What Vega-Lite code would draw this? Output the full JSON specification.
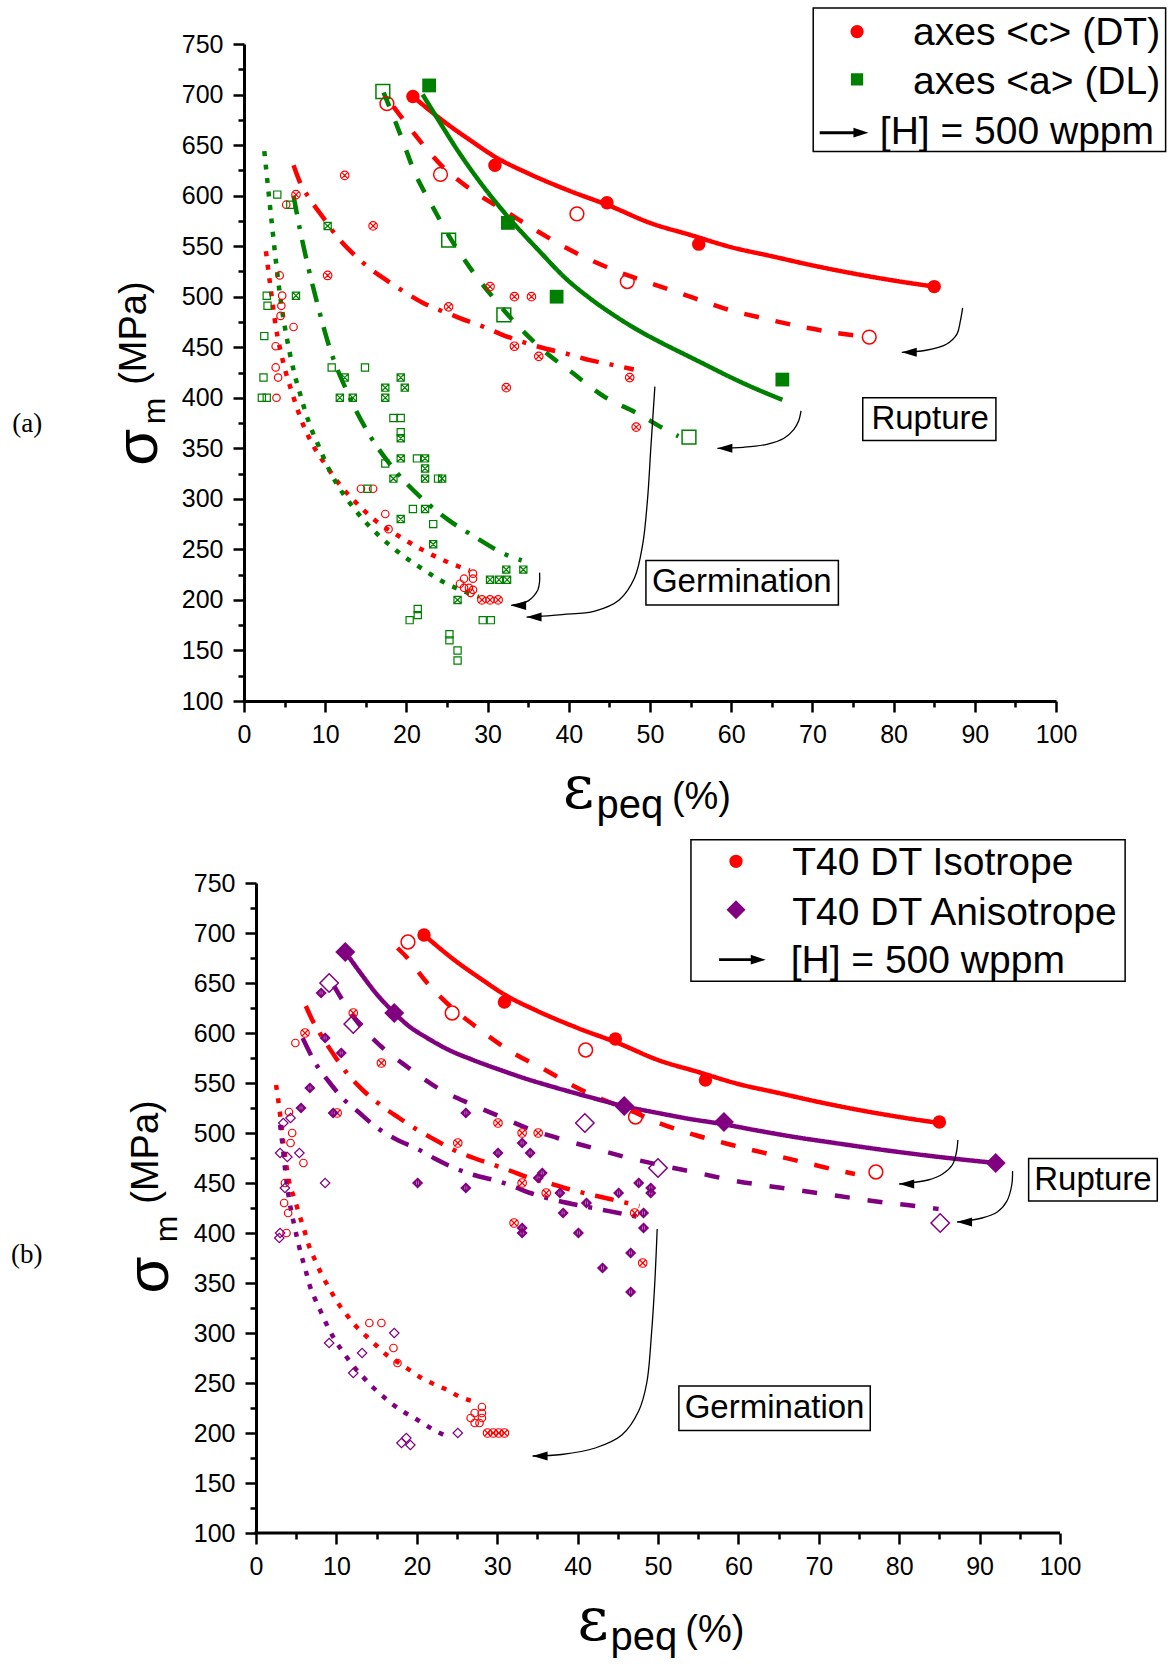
{
"$schema":"https://vega.github.io/schema/vega-lite/v6.json",
"background":"white",
"padding":{"left":11,"top":7,"right":0,"bottom":0},
"spacing":12,
"columns":1,
"align":"none",
"config":{"view":{"stroke":null},"axis":{"domainColor":"black","domainWidth":3,"tickColor":"black","tickWidth":2.5,"labelFont":"Liberation Sans","labelFontSize":25,"labelColor":"black","grid":false,"title":null,"labelOverlap":false,"labelFlush":false,"labelPadding":10}},
"resolve":{"scale":{"x":"independent","y":"independent","color":"independent","strokeDash":"independent"}},
"datasets":{
"pa":[
{"s":"c_rup","x":[20.8,30.9,44.7,56,85],"y":[698,630,593,552,510]},
{"s":"c_rupH","x":[17.6,24.2,41,47.2,77],"y":[691,621,582,515,460]},
{"s":"a_rup","x":[22.8,32.5,38.5,66.3],"y":[709,573,500,418]},
{"s":"a_rupH","x":[17.1,25.2,32,54.8],"y":[703,556,482,361]},
{"s":"c_germ","x":[12.4,6.4,15.9,10.3,25.2,30.3,33.3,35.4,33.3,36.3,32.3,47.5,48.3,29.3,30.3,31.3],"y":[620,601,570,521,490,510,500,500,451,441,410,420,371,200,200,200]},
{"s":"c_germH","x":[5.2,4.4,4.7,4.6,4.5,6.1,3.9,3.9,4.2,4.0,14.4,15.9,17.4,17.8,28.2,28.2,27.1,26.6,27.1,27.7,28.2,27.9],"y":[591,521,501,491,481,470,451,430,420,400,310,310,285,270,226,221,221,216,212,212,210,207]},
{"s":"a_germ","x":[10.3,6.4,12.4,19.3,11.8,13.4,17.4,17.4,19.8,19.3,19.3,22.3,22.3,18.4,22.3,24.4,22.3,19.3,23.3,32.3,34.4,30.3,31.4,32.4,26.3],"y":[570,501,420,420,400,400,410,400,410,360,340,340,330,320,320,320,290,280,255,230,230,220,220,220,200]},
{"s":"a_germH","x":[4.1,5.7,2.8,2.9,2.5,2.4,2.2,2.8,10.8,14.9,18.4,19.3,19.3,17.4,21.3,23.9,15.2,20.8,23.3,20.4,21.4,21.4,29.4,30.4,25.3,25.3,26.3,26.3],"y":[601,591,501,491,461,420,400,400,430,430,380,380,366,335,340,320,310,290,275,180,185,191,180,180,166,160,150,140]}
],
"pb":[
{"s":"i_rup","x":[20.9,30.9,44.7,55.9,85],"y":[698,631,594,553,511]},
{"s":"i_rupH","x":[18.9,24.4,41,47.2,77.1],"y":[691,620,583,516,461]},
{"s":"n_rup","x":[11.1,17.2,45.8,58.2,92],"y":[681,620,527,511,470]},
{"s":"n_rupH","x":[9.1,12.1,40.9,50,85.1],"y":[650,609,510,465,410]},
{"s":"i_germ","x":[6.1,12.1,15.6,10.1,25.1,30.1,33.1,35.1,33.1,36.1,47.1,32.1,48.1,28.8,29.5,30.2,30.9],"y":[600,620,570,520,490,510,500,500,450,440,420,410,370,200,200,200,200]},
{"s":"i_germH","x":[4.9,4.1,4.5,4.3,5.9,3.6,3.5,4.0,3.8,14.1,15.6,17.1,17.6,28.1,28.1,27.2,26.7,28.1,27.8,27.2],"y":[590,521,500,490,470,450,430,420,400,310,310,285,270,226,220,220,215,215,210,210]},
{"s":"n_germ","x":[8.1,8.6,10.6,6.7,5.6,9.6,26.1,26.1,20.1,30.1,33.1,34.1,35.6,35.1,37.8,38.2,41.1,40.1,33.1,33.1,45.1,47.6,49.1,49.1,48.2,48.2,46.6,43.1,46.6],"y":[640,595,580,545,525,520,520,445,450,480,490,480,460,455,440,420,430,400,405,400,440,450,445,440,420,405,380,365,341]},
{"s":"n_germH","x":[3.4,4.3,3.0,3.9,5.4,3.6,8.6,3.0,2.9,9.1,13.2,12.1,17.2,18.1,18.7,19.2,25.1],"y":[510,515,480,476,480,445,450,400,395,290,280,260,300,190,195,188,200]}
],
"la":[
{"c":"cS","x":[20.8,25,28,31,35,40,45,50,55,60,65,70,75,80,85],"y":[698,671,654,638,622,605,590,573,561,549,540,531,523,516,510]},
{"c":"cD","x":[18.4,20.3,22.3,24.3,26.3,28.3,32.3,36.3,39.3,43.3,47.3,51.3,55.3,59.3,64.3,68.8,72.3,76.8],"y":[688,668,648,630,616,604,584,564,550,534,521,510,499,488,478,470,465,460]},
{"c":"aS","x":[22,24,26.2,29.1,32.4,36.5,39.5,42.5,45.5,48.5,51.5,54,57,60,63,66.3],"y":[700,674,646,613,580,544,519,499,482,467,454,444,432,420,409,398]},
{"c":"aD","x":[17.2,18.5,19.7,20.85,23.1,25.4,27.8,30.7,34,37,40.4,44.2,48.6,51.8,53.5],"y":[702,676,651,626,591,558,529,499,469,446,425,402,384,369,362]},
{"c":"cDD","x":[6.1,6.9,7.9,9.6,11.4,13.5,15.5,17.8,20.1,22.5,25,27.5,29.9,31.6,34,36.5,40,42.7,45.1,48],"y":[630,613,599,580,560,542,528,515,503,492,484,476,469,463,456,450,443,437,433,428]},
{"c":"aDD","x":[6.1,6.9,7.6,9,10.6,12.7,15.1,18.2,21.7,25.2,28.3,32.2,34.2],"y":[600,566,540,494,448,406,368,332,302,279,263,245,239]},
{"c":"cDt","x":[2.7,3.3,3.9,4.8,6,7.3,8.5,10.2,11.8,13.7,16.1,19.1,22.1,25.5,27.8],"y":[545,507,471,436,403,373,353,332,314,297,279,263,249,236,229]},
{"c":"aDt","x":[2.5,3.5,4,4.6,5.3,6.3,6.9,7.6,8.3,9.1,10.6,13.8,16.3,18.9,21.9,24.5,27.9,28.9],"y":[644,567,530,492,458,421,404,385,369,354,327,288,266,248,231,218,206,203]}
],
"lb":[
{"c":"iS","x":[20.9,25,28,31,35,40,45,50,55,60,65,70,75,80,85],"y":[698,671,654,638,622,605,590,573,561,549,540,531,523,516,510]},
{"c":"iD","x":[17.6,18.6,21.3,24,27.9,31.8,36,39.5,43,47,50.1,54.6,59.2,64.3,68.5,72.7,74.5],"y":[685,677,650,628,603,581,563,547,534,521,510,498,488,478,470,462,459]},
{"c":"nS","x":[11.2,13,15,17.1,19,21.3,24,27,30.4,33.3,37,41,45.7,50,54,58,62,67,72,79,85,92],"y":[680,660,639,621,607,595,583,573,563,555,546,537,527,520,514,509,503,496,490,482,476,470]},
{"c":"nD","x":[9.7,12.4,15.5,19,22.6,26.7,30.2,33.7,37.5,41.9,46.4,50.8,55,59.7,63.7,68.1,72.5,76.7,81,84.9],"y":[647,613,587,565,545,529,517,505,495,485,475,467,460,452,447,442,437,432,428,424]},
{"c":"iDD","x":[6.2,7,8,9.7,11.3,13.4,15.5,17.8,20.1,22.3,24.6,27.1,29.6,31.7,34.1,36.4,38.4,42.4,45.1,47.7],"y":[627,613,599,578,560,542,528,515,503,493,483,475,468,462,455,450,445,437,432,427]},
{"c":"nDD","x":[5.8,6.4,7.3,9,11,12.6,15.1,17.6,20.1,22.1,24.4,27.1,29.6,31.9,34.1,36.7,41.9,45.1,48.2],"y":[595,585,571,552,533,522,505,493,484,475,466,458,453,447,440,434,425,420,415]},
{"c":"iDt","x":[2.5,2.9,3.4,4.1,4.8,5.4,6,6.6,7.4,8.2,9.1,10.1,11.2,12.3,13.7,14.9,16.1,17.6,19.1,20.6,22.1,23.8,25.4,27.4],"y":[548,525,490,452,434,418,403,387,372,358,345,331,319,308,297,288,279,271,263,255,249,243,236,231]},
{"c":"nDt","x":[3,3.3,3.7,4.2,4.7,5.2,5.6,6.2,6.7,7.4,8.2,9,9.9,11,12,13.2,14.5,15.9,17.1,18.4,19.9,21.5,22.6,24],"y":[508,488,458,430,410,392,379,362,347,333,319,305,292,279,268,257,246,236,228,221,214,206,201,196]}
],
"ara":[
{"a":"A1","x":[88.5,88.2,87.8,86.5,84,81],"y":[489,475,463,453,447,445]},
{"a":"A2","x":[68.6,68.3,67.7,66.5,64.4,61.5,58.3],"y":[387,377,368.5,360,354,351,350]},
{"a":"A3","x":[50.6,50.1,49.7,49.1,48.1,46.2,43.2,39.2,34.8],"y":[411,350,300,255,222,200,189,185.5,183]},
{"a":"A4","x":[36.4,36.4,36.2,35.7,35,34.1,32.9],"y":[227,218,210,204,199,196.5,194.6]},
{"a":"L","x":[70.9,75.8],"y":[662.2,662.2]}
],
"arb":[
{"a":"B1","x":[87.3,87.1,86.6,85.4,83.6,80],"y":[493,480,468,459,453,449]},
{"a":"B2","x":[94.1,94,93.4,92.2,90.3,87.2],"y":[462,448,432,421,415,411]},
{"a":"B3","x":[49.9,49.6,49.2,48.6,47.6,45.5,42.2,38,34.4],"y":[404,350,300,250,222,198,185,178.5,177]},
{"a":"L","x":[57.6,62.2],"y":[673.3,673.3]}
],
"aha":[{"x":81,"y":445,"d":"L"},{"x":58.3,"y":350,"d":"L"},{"x":34.8,"y":183,"d":"L"},{"x":32.9,"y":194.6,"d":"L"},{"x":76.9,"y":662.2,"d":"R"}],
"ahb":[{"x":80,"y":449,"d":"L"},{"x":87.2,"y":411,"d":"L"},{"x":34.4,"y":177,"d":"L"},{"x":63.4,"y":673.3,"d":"R"}],
"lma":[{"x":75.5,"y":762.2,"s":"c"},{"x":75.5,"y":715,"s":"a"}],
"lmb":[{"x":59.7,"y":771.7,"s":"i"},{"x":59.7,"y":723.3,"s":"n"}],
"ba":[{"x":70.1,"x2":113.5,"y":785.7,"y2":643.7},{"x":76.2,"x2":92.6,"y":399.9,"y2":357.8},{"x":49.5,"x2":73.2,"y":239.1,"y2":194.9}],
"bb":[{"x":54.1,"x2":108.1,"y":793.3,"y2":651.7},{"x":96.1,"x2":112.1,"y":474.5,"y2":432},{"x":52.6,"x2":76.4,"y":247,"y2":202.5}],
"xb":[{"x":-0.2,"x2":100,"y":100}],
"ta":[
{"x":84.5,"y":378.6,"t":"Rupture","k":"box"},
{"x":61.3,"y":217.4,"t":"Germination","k":"box"},
{"x":82.4,"y":748.8,"t":"axes <c> (DT)","k":"leg"},
{"x":82.4,"y":701,"t":"axes <a> (DL)","k":"leg"},
{"x":78.3,"y":651.5,"t":"[H] = 500 wppm","k":"leg"},
{"x":-12.9,"y":351,"t":"σ","k":"sig"},
{"x":-11.0,"y":387,"t":"m","k":"sub"},
{"x":-13.4,"y":464,"t":"(MPa)","k":"mpa"},
{"x":39.3,"y":-5.5,"t":"ε","k":"eps"},
{"x":43.4,"y":-15.4,"t":"peq","k":"peq"},
{"x":52.7,"y":-7.3,"t":"(%)","k":"pct"},
{"x":-26.7,"y":373.7,"t":"(a)","k":"lab"}
],
"tb":[
{"x":104.1,"y":453,"t":"Rupture","k":"box"},
{"x":64.5,"y":224.7,"t":"Germination","k":"box"},
{"x":66.7,"y":758.3,"t":"T40 DT Isotrope","k":"leg"},
{"x":66.7,"y":708.5,"t":"T40 DT Anisotrope","k":"leg"},
{"x":66.5,"y":660,"t":"[H] = 500 wppm","k":"leg"},
{"x":-13.2,"y":358,"t":"σ","k":"sig"},
{"x":-11.1,"y":404,"t":"m","k":"sub"},
{"x":-13.6,"y":481,"t":"(MPa)","k":"mpa"},
{"x":40.0,"y":-7,"t":"ε","k":"eps"},
{"x":44.1,"y":-17,"t":"peq","k":"peq"},
{"x":53.4,"y":-9,"t":"(%)","k":"pct"},
{"x":-28.5,"y":378,"t":"(b)","k":"lab"}
]
},
"concat":[
{
"width":812,"height":657,
"encoding":{
"x":{"field":"x","type":"quantitative","scale":{"domain":[0,100],"nice":false,"zero":false},"axis":{"values":[0,5,10,15,20,25,30,35,40,45,50,55,60,65,70,75,80,85,90,95,100],"labelExpr":"datum.value % 10 === 0 ? datum.label : ''","tickSize":{"condition":{"test":"datum.value % 10 === 0","value":11},"value":6}}},
"y":{"field":"y","type":"quantitative","scale":{"domain":[100,750],"nice":false,"zero":false},"axis":{"values":[100,125,150,175,200,225,250,275,300,325,350,375,400,425,450,475,500,525,550,575,600,625,650,675,700,725,750],"labelExpr":"datum.value % 50 === 0 ? datum.label : ''","tickSize":{"condition":{"test":"datum.value % 50 === 0","value":11},"value":6}}}
},
"layer":[
{"data":{"name":"ba"},"mark":{"type":"rect","fill":"white","stroke":"black","strokeWidth":1.5},"encoding":{"x2":{"field":"x2"},"y2":{"field":"y2"}}},
{"data":{"name":"la"},"transform":[{"flatten":["x","y"]}],"mark":{"type":"line","interpolate":"monotone","strokeWidth":4.5,"strokeCap":"butt"},"encoding":{"color":{"field":"c","type":"nominal","scale":{"domain":["cS","cD","cDD","cDt","aS","aD","aDD","aDt"],"range":["#FF0000","#FF0000","#FF0000","#FF0000","#008000","#008000","#008000","#008000"]},"legend":null},"strokeDash":{"field":"c","type":"nominal","scale":{"domain":["cS","cD","cDD","cDt","aS","aD","aDD","aDt"],"range":[[1,0],[15,17],[19,11,4,11],[5,8.5],[1,0],[15,16],[19,11,4,11],[5,8.5]]},"legend":null}}},
{"data":{"name":"ara"},"transform":[{"filter":"datum.a !== 'L'"},{"flatten":["x","y"]}],"mark":{"type":"line","color":"black","strokeWidth":1.3,"interpolate":"catmull-rom"},"encoding":{"detail":{"field":"a","type":"nominal"},"order":{"field":"y","type":"quantitative","sort":"descending"}}},
{"data":{"name":"ara"},"transform":[{"filter":"datum.a === 'L'"},{"flatten":["x","y"]}],"mark":{"type":"line","color":"black","strokeWidth":2.8},"encoding":{}},
{"data":{"name":"aha"},"transform":[{"filter":"datum.d === 'L'"}],"mark":{"type":"point","shape":"M 0 0 L 2 -0.6 L 2 0.6 Z","filled":true,"color":"black","size":225,"opacity":1,"strokeWidth":0}},
{"data":{"name":"aha"},"transform":[{"filter":"datum.d === 'R'"}],"mark":{"type":"point","shape":"M 0 0 L -2 -0.65 L -2 0.65 Z","filled":true,"color":"black","size":225,"opacity":1,"strokeWidth":0}},
{"data":{"name":"pa"},"transform":[{"filter":{"field":"s","equal":"c_germ"}},{"flatten":["x","y"]}],"mark":{"type":"point","shape":"M -1 0 A 1 1 0 1 1 1 0 A 1 1 0 1 1 -1 0 Z M -0.7 -0.7 L 0.7 0.7 M -0.7 0.7 L 0.7 -0.7","filled":false,"color":"#FF0000","size":72,"strokeWidth":1.2,"opacity":1}},
{"data":{"name":"pa"},"transform":[{"filter":{"field":"s","equal":"c_germH"}},{"flatten":["x","y"]}],"mark":{"type":"point","shape":"circle","filled":false,"color":"#FF0000","size":56,"strokeWidth":1.2,"opacity":1}},
{"data":{"name":"pa"},"transform":[{"filter":{"field":"s","equal":"a_germ"}},{"flatten":["x","y"]}],"mark":{"type":"point","shape":"M -1 -1 L 1 -1 L 1 1 L -1 1 Z M -1 -1 L 1 1 M -1 1 L 1 -1","filled":false,"color":"#008000","size":52,"strokeWidth":1.2,"opacity":1}},
{"data":{"name":"pa"},"transform":[{"filter":{"field":"s","equal":"a_germH"}},{"flatten":["x","y"]}],"mark":{"type":"point","shape":"square","filled":false,"color":"#008000","size":52,"strokeWidth":1.2,"opacity":1}},
{"data":{"name":"pa"},"transform":[{"filter":{"field":"s","equal":"c_rup"}},{"flatten":["x","y"]}],"mark":{"type":"point","shape":"circle","filled":true,"color":"#FF0000","size":180,"strokeWidth":0,"opacity":1}},
{"data":{"name":"pa"},"transform":[{"filter":{"field":"s","equal":"c_rupH"}},{"flatten":["x","y"]}],"mark":{"type":"point","shape":"circle","filled":false,"color":"#FF0000","size":190,"strokeWidth":1.5,"opacity":1}},
{"data":{"name":"pa"},"transform":[{"filter":{"field":"s","equal":"a_rup"}},{"flatten":["x","y"]}],"mark":{"type":"point","shape":"square","filled":true,"color":"#008000","size":190,"strokeWidth":0,"opacity":1}},
{"data":{"name":"pa"},"transform":[{"filter":{"field":"s","equal":"a_rupH"}},{"flatten":["x","y"]}],"mark":{"type":"point","shape":"square","filled":false,"color":"#008000","size":190,"strokeWidth":1.5,"opacity":1}},
{"data":{"name":"lma"},"transform":[{"filter":"datum.s === 'c'"}],"mark":{"type":"point","shape":"circle","filled":true,"color":"#FF0000","size":175,"strokeWidth":0,"opacity":1}},
{"data":{"name":"lma"},"transform":[{"filter":"datum.s === 'a'"}],"mark":{"type":"point","shape":"square","filled":true,"color":"#008000","size":150,"strokeWidth":0,"opacity":1}},
{"data":{"name":"ta"},"transform":[{"filter":"datum.k === 'box'"}],"mark":{"type":"text","font":"Liberation Sans","fontSize":33,"align":"center","baseline":"middle","color":"black"},"encoding":{"text":{"field":"t","type":"nominal"}}},
{"data":{"name":"ta"},"transform":[{"filter":"datum.k === 'leg'"}],"mark":{"type":"text","font":"Liberation Sans","fontSize":39,"align":"left","baseline":"alphabetic","color":"black"},"encoding":{"text":{"field":"t","type":"nominal"}}},
{"data":{"name":"ta"},"transform":[{"filter":"datum.k === 'sig'"}],"mark":{"type":"text","font":"Liberation Sans","fontSize":60,"angle":270,"align":"center","baseline":"middle","color":"black"},"encoding":{"text":{"field":"t","type":"nominal"}}},
{"data":{"name":"ta"},"transform":[{"filter":"datum.k === 'sub'"}],"mark":{"type":"text","font":"Liberation Sans","fontSize":32,"angle":270,"align":"center","baseline":"middle","color":"black"},"encoding":{"text":{"field":"t","type":"nominal"}}},
{"data":{"name":"ta"},"transform":[{"filter":"datum.k === 'mpa'"}],"mark":{"type":"text","font":"Liberation Sans","fontSize":38,"angle":270,"align":"center","baseline":"middle","color":"black"},"encoding":{"text":{"field":"t","type":"nominal"}}},
{"data":{"name":"ta"},"transform":[{"filter":"datum.k === 'eps'"}],"mark":{"type":"text","font":"DejaVu Serif","fontSize":60,"align":"left","baseline":"alphabetic","color":"black"},"encoding":{"text":{"field":"t","type":"nominal"}}},
{"data":{"name":"ta"},"transform":[{"filter":"datum.k === 'peq'"}],"mark":{"type":"text","font":"Liberation Sans","fontSize":40,"align":"left","baseline":"alphabetic","color":"black"},"encoding":{"text":{"field":"t","type":"nominal"}}},
{"data":{"name":"ta"},"transform":[{"filter":"datum.k === 'pct'"}],"mark":{"type":"text","font":"Liberation Sans","fontSize":38,"align":"left","baseline":"alphabetic","color":"black"},"encoding":{"text":{"field":"t","type":"nominal"}}},
{"data":{"name":"ta"},"transform":[{"filter":"datum.k === 'lab'"}],"mark":{"type":"text","font":"Liberation Serif","fontSize":27,"align":"center","baseline":"middle","color":"black"},"encoding":{"text":{"field":"t","type":"nominal"}}}
]
},
{
"width":816,"height":650,
"encoding":{
"x":{"field":"x","type":"quantitative","scale":{"domain":[-1.49,100],"nice":false,"zero":false},"axis":{"domain":false,"values":[0,5,10,15,20,25,30,35,40,45,50,55,60,65,70,75,80,85,90,95,100],"labelExpr":"datum.value % 10 === 0 ? datum.label : ''","tickSize":{"condition":{"test":"datum.value % 10 === 0","value":11},"value":6}}},
"y":{"field":"y","type":"quantitative","scale":{"domain":[100,750],"nice":false,"zero":false},"axis":{"offset":-12,"values":[100,125,150,175,200,225,250,275,300,325,350,375,400,425,450,475,500,525,550,575,600,625,650,675,700,725,750],"labelExpr":"datum.value % 50 === 0 ? datum.label : ''","tickSize":{"condition":{"test":"datum.value % 50 === 0","value":11},"value":6}}}
},
"layer":[
{"data":{"name":"bb"},"mark":{"type":"rect","fill":"white","stroke":"black","strokeWidth":1.5},"encoding":{"x2":{"field":"x2"},"y2":{"field":"y2"}}},
{"data":{"name":"xb"},"mark":{"type":"rule","color":"black","strokeWidth":3},"encoding":{"x2":{"field":"x2"}}},
{"data":{"name":"lb"},"transform":[{"flatten":["x","y"]}],"mark":{"type":"line","interpolate":"monotone","strokeWidth":4.5,"strokeCap":"butt"},"encoding":{"color":{"field":"c","type":"nominal","scale":{"domain":["iS","iD","iDD","iDt","nS","nD","nDD","nDt"],"range":["#FF0000","#FF0000","#FF0000","#FF0000","#800080","#800080","#800080","#800080"]},"legend":null},"strokeDash":{"field":"c","type":"nominal","scale":{"domain":["iS","iD","iDD","iDt","nS","nD","nDD","nDt"],"range":[[1,0],[15,17],[19,11,4,11],[5,8.5],[1,0],[15,18],[19,11,4,11],[5,8.5]]},"legend":null}}},
{"data":{"name":"arb"},"transform":[{"filter":"datum.a !== 'L'"},{"flatten":["x","y"]}],"mark":{"type":"line","color":"black","strokeWidth":1.3,"interpolate":"catmull-rom"},"encoding":{"detail":{"field":"a","type":"nominal"},"order":{"field":"y","type":"quantitative","sort":"descending"}}},
{"data":{"name":"arb"},"transform":[{"filter":"datum.a === 'L'"},{"flatten":["x","y"]}],"mark":{"type":"line","color":"black","strokeWidth":2.8},"encoding":{}},
{"data":{"name":"ahb"},"transform":[{"filter":"datum.d === 'L'"}],"mark":{"type":"point","shape":"M 0 0 L 2 -0.6 L 2 0.6 Z","filled":true,"color":"black","size":225,"opacity":1,"strokeWidth":0}},
{"data":{"name":"ahb"},"transform":[{"filter":"datum.d === 'R'"}],"mark":{"type":"point","shape":"M 0 0 L -2 -0.65 L -2 0.65 Z","filled":true,"color":"black","size":225,"opacity":1,"strokeWidth":0}},
{"data":{"name":"pb"},"transform":[{"filter":{"field":"s","equal":"i_germ"}},{"flatten":["x","y"]}],"mark":{"type":"point","shape":"M -1 0 A 1 1 0 1 1 1 0 A 1 1 0 1 1 -1 0 Z M -0.7 -0.7 L 0.7 0.7 M -0.7 0.7 L 0.7 -0.7","filled":false,"color":"#FF0000","size":72,"strokeWidth":1.2,"opacity":1}},
{"data":{"name":"pb"},"transform":[{"filter":{"field":"s","equal":"i_germH"}},{"flatten":["x","y"]}],"mark":{"type":"point","shape":"circle","filled":false,"color":"#FF0000","size":56,"strokeWidth":1.2,"opacity":1}},
{"data":{"name":"pb"},"transform":[{"filter":{"field":"s","equal":"n_germ"}},{"flatten":["x","y"]}],"mark":{"type":"point","shape":"M 0 -1 L 1 0 L 0 1 L -1 0 Z M 0 -1 L 0 1 M -1 0 L 1 0 M -0.5 0 A 0.5 0.5 0 1 1 0.5 0 A 0.5 0.5 0 1 1 -0.5 0","filled":false,"color":"#800080","size":90,"strokeWidth":1.2,"opacity":1}},
{"data":{"name":"pb"},"transform":[{"filter":{"field":"s","equal":"n_germH"}},{"flatten":["x","y"]}],"mark":{"type":"point","shape":"diamond","filled":false,"color":"#800080","size":90,"strokeWidth":1.2,"opacity":1}},
{"data":{"name":"pb"},"transform":[{"filter":{"field":"s","equal":"i_rup"}},{"flatten":["x","y"]}],"mark":{"type":"point","shape":"circle","filled":true,"color":"#FF0000","size":180,"strokeWidth":0,"opacity":1}},
{"data":{"name":"pb"},"transform":[{"filter":{"field":"s","equal":"i_rupH"}},{"flatten":["x","y"]}],"mark":{"type":"point","shape":"circle","filled":false,"color":"#FF0000","size":190,"strokeWidth":1.5,"opacity":1}},
{"data":{"name":"pb"},"transform":[{"filter":{"field":"s","equal":"n_rup"}},{"flatten":["x","y"]}],"mark":{"type":"point","shape":"diamond","filled":true,"color":"#800080","size":400,"strokeWidth":0,"opacity":1}},
{"data":{"name":"pb"},"transform":[{"filter":{"field":"s","equal":"n_rupH"}},{"flatten":["x","y"]}],"mark":{"type":"point","shape":"diamond","filled":false,"color":"#800080","size":340,"strokeWidth":1.5,"opacity":1}},
{"data":{"name":"lmb"},"transform":[{"filter":"datum.s === 'i'"}],"mark":{"type":"point","shape":"circle","filled":true,"color":"#FF0000","size":175,"strokeWidth":0,"opacity":1}},
{"data":{"name":"lmb"},"transform":[{"filter":"datum.s === 'n'"}],"mark":{"type":"point","shape":"diamond","filled":true,"color":"#800080","size":361,"strokeWidth":0,"opacity":1}},
{"data":{"name":"tb"},"transform":[{"filter":"datum.k === 'box'"}],"mark":{"type":"text","font":"Liberation Sans","fontSize":33,"align":"center","baseline":"middle","color":"black"},"encoding":{"text":{"field":"t","type":"nominal"}}},
{"data":{"name":"tb"},"transform":[{"filter":"datum.k === 'leg'"}],"mark":{"type":"text","font":"Liberation Sans","fontSize":39,"align":"left","baseline":"alphabetic","color":"black"},"encoding":{"text":{"field":"t","type":"nominal"}}},
{"data":{"name":"tb"},"transform":[{"filter":"datum.k === 'sig'"}],"mark":{"type":"text","font":"Liberation Sans","fontSize":60,"angle":270,"align":"center","baseline":"middle","color":"black"},"encoding":{"text":{"field":"t","type":"nominal"}}},
{"data":{"name":"tb"},"transform":[{"filter":"datum.k === 'sub'"}],"mark":{"type":"text","font":"Liberation Sans","fontSize":32,"angle":270,"align":"center","baseline":"middle","color":"black"},"encoding":{"text":{"field":"t","type":"nominal"}}},
{"data":{"name":"tb"},"transform":[{"filter":"datum.k === 'mpa'"}],"mark":{"type":"text","font":"Liberation Sans","fontSize":38,"angle":270,"align":"center","baseline":"middle","color":"black"},"encoding":{"text":{"field":"t","type":"nominal"}}},
{"data":{"name":"tb"},"transform":[{"filter":"datum.k === 'eps'"}],"mark":{"type":"text","font":"DejaVu Serif","fontSize":60,"align":"left","baseline":"alphabetic","color":"black"},"encoding":{"text":{"field":"t","type":"nominal"}}},
{"data":{"name":"tb"},"transform":[{"filter":"datum.k === 'peq'"}],"mark":{"type":"text","font":"Liberation Sans","fontSize":40,"align":"left","baseline":"alphabetic","color":"black"},"encoding":{"text":{"field":"t","type":"nominal"}}},
{"data":{"name":"tb"},"transform":[{"filter":"datum.k === 'pct'"}],"mark":{"type":"text","font":"Liberation Sans","fontSize":38,"align":"left","baseline":"alphabetic","color":"black"},"encoding":{"text":{"field":"t","type":"nominal"}}},
{"data":{"name":"tb"},"transform":[{"filter":"datum.k === 'lab'"}],"mark":{"type":"text","font":"Liberation Serif","fontSize":27,"align":"center","baseline":"middle","color":"black"},"encoding":{"text":{"field":"t","type":"nominal"}}}
]
}
]
}
